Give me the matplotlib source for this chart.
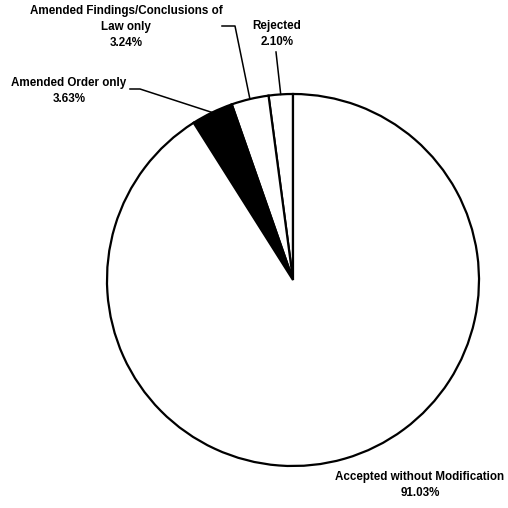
import numpy as np
import matplotlib
matplotlib.use('Agg')
import matplotlib.pyplot as plt

# slices, in drawing order (counter-clockwise from 12 o'clock)
labels = ['Rejected', 'Amended Findings/Conclusions of\nLaw only',
          'Amended Order only', 'Accepted without Modification']
shares = [2.10, 3.24, 3.63, 91.03]
colors = ['white', 'white', 'black', 'white']

W = H = 508
cx, cy, r = 293, H - 280, 186

fig = plt.figure(figsize=(W / 100, H / 100), dpi=100)
ax = fig.add_axes([0, 0, 1, 1])
wedges, _ = ax.pie(shares, colors=colors, startangle=90, counterclock=True,
                   center=(cx, cy), radius=r, frame=True,
                   wedgeprops=dict(edgecolor='black', linewidth=1.6))
ax.set_xlim(0, W)
ax.set_ylim(0, H)
ax.set_aspect('equal')
ax.axis('off')

font = dict(family='Liberation Sans', fontsize=8.4, fontweight='bold',
            ha='center', va='center', linespacing=1.4)

def label_text(i):
    return '%s\n%.2f%%' % (labels[i], shares[i])

# text position, then leader path start/elbow (None = no leader)
layout = [
    ((277, H - 34), [(276, H - 52)]),
    ((126, H - 27), [(222, H - 26), (235, H - 26)]),
    ((69, H - 91), [(130, H - 89), (140, H - 89)]),
    ((420, H - 485), None),
]

for i, w in enumerate(wedges):
    (tx, ty), path = layout[i]
    ax.text(tx, ty, label_text(i), **font)
    if path is None:
        continue
    mid = np.deg2rad((w.theta1 + w.theta2) / 2)
    end = (cx + r * np.cos(mid), cy + r * np.sin(mid))
    pts = path + [end]
    ax.plot([p[0] for p in pts], [p[1] for p in pts], color='black', lw=1.1)

fig.savefig('out.png', dpi=100, facecolor='white')
